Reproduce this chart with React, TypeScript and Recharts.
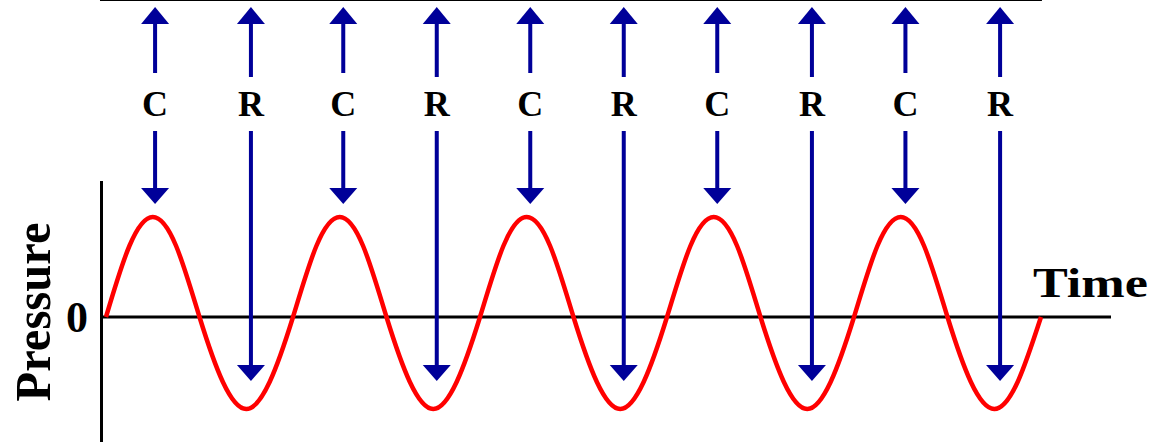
import React from 'react';
import { ComposedChart, Line, XAxis, YAxis, ReferenceLine, ReferenceDot } from 'recharts';

// Time in eighth-period steps, pressure (peak = 100)
const times = [0, 1, 2, 3, 4, 5, 6, 7, 8, 9, 10, 11, 12, 13, 14, 15, 16, 17, 18, 19, 20,
  21, 22, 23, 24, 25, 26, 27, 28, 29, 30, 31, 32, 33, 34, 35, 36, 37, 38, 39, 40];
const pressure = [0, 71, 100, 71, 0, -65, -92, -65,
  0, 71, 100, 71, 0, -65, -92, -65,
  0, 71, 100, 71, 0, -65, -92, -65,
  0, 71, 100, 71, 0, -65, -92, -65,
  0, 71, 100, 71, 0, -65, -92, -65, 0];

// Compression (C) / rarefaction (R) markers
const eventTimes = [2.1, 6.2, 10.15, 14.15, 18.15, 22.15, 26.15, 30.2, 34.2, 38.25];
const eventLabels = ['C', 'R', 'C', 'R', 'C', 'R', 'C', 'R', 'C', 'R'];
const eventPressure = [100, -92, 100, -92, 100, -92, 100, -92, 100, -92];

const yTicks = [0];

const data = times.map((t, i) => ({ t, p: pressure[i] }));

const BLUE = '#000099';
const RED = '#ff0000';
const FONT = '"Liberation Serif", "Times New Roman", serif';

const W = 1151;
const H = 442;

const makeArrow = (label: string) => (props: any) => {
  const cx = props.cx;
  const cy = props.cy;
  const isC = label === 'C';
  const upBottom = isC ? 73 : 77;
  const tip = cy - (isC ? 14 : 29);
  return (
    <g>
      <polygon points={`${cx},7 ${cx + 14},24 ${cx - 14},24`} fill={BLUE} />
      <rect x={cx - 2} y={22} width={4} height={upBottom - 22} fill={BLUE} />
      <text x={cx} y={116} textAnchor="middle" fontFamily={FONT} fontWeight="bold" fontSize={36} fill="#000">
        {label}
      </text>
      <rect x={cx - 2} y={131} width={4} height={tip - 12 - 131} fill={BLUE} />
      <polygon points={`${cx - 14},${tip - 15} ${cx + 14},${tip - 15} ${cx},${tip + 1}`} fill={BLUE} />
    </g>
  );
};

const ZeroTick = (props: any) => {
  const { x, y, payload } = props;
  return (
    <text x={x} y={y} dy={15} textAnchor="end" fontFamily={FONT} fontWeight="bold" fontSize={44} fill="#000">
      {payload.value}
    </text>
  );
};

const PressureLabel = () => (
  <text
    x={50}
    y={312}
    transform="rotate(-90, 50, 312)"
    textAnchor="middle"
    fontFamily={FONT}
    fontWeight="bold"
    fontSize={50}
    textLength={179}
    lengthAdjust="spacingAndGlyphs"
    fill="#000"
  >
    Pressure
  </text>
);

const TimeLabel = (props: any) => {
  const vb = props.viewBox || {};
  return (
    <text
      x={1033}
      y={(vb.y ?? 317) - 20}
      textAnchor="start"
      fontFamily={FONT}
      fontWeight="bold"
      fontSize={42}
      textLength={115}
      lengthAdjust="spacingAndGlyphs"
      fill="#000"
    >
      Time
    </text>
  );
};

export default function App() {
  return (
    <div style={{ position: 'absolute', left: 0, top: 0, width: W, height: H, background: '#fff' }}>
      <ComposedChart width={W} height={H} data={data} margin={{ top: 0, right: 40, bottom: 0, left: 0 }}>
        <XAxis type="number" dataKey="t" domain={[-0.2567, 42.9947]} hide allowDataOverflow />
        <YAxis
          type="number"
          domain={[-125, 317]}
          allowDataOverflow
          width={100}
          axisLine={false}
          tickLine={false}
          tickSize={0}
          tickMargin={12}
          ticks={yTicks}
          tick={<ZeroTick />}
          label={{ content: <PressureLabel /> }}
        />
        {/* top border line */}
        <ReferenceLine
          segment={[{ x: -0.257, y: 317 }, { x: 40.04, y: 317 }]}
          stroke="#000"
          strokeWidth={2}
          ifOverflow="visible"
        />
        {/* vertical pressure axis */}
        <ReferenceLine
          segment={[{ x: -0.1925, y: 136 }, { x: -0.1925, y: -125 }]}
          stroke="#000"
          strokeWidth={3}
          ifOverflow="visible"
        />
        {/* time axis */}
        <ReferenceLine y={0} stroke="#000" strokeWidth={3} label={<TimeLabel />} />
        <Line
          type="natural"
          dataKey="p"
          stroke={RED}
          strokeWidth={4.5}
          dot={false}
          activeDot={false}
          isAnimationActive={false}
        />
        {eventTimes.map((t, i) => (
          <ReferenceDot
            key={i}
            x={t}
            y={eventPressure[i]}
            r={0}
            ifOverflow="visible"
            shape={makeArrow(eventLabels[i])}
          />
        ))}
      </ComposedChart>
    </div>
  );
}
